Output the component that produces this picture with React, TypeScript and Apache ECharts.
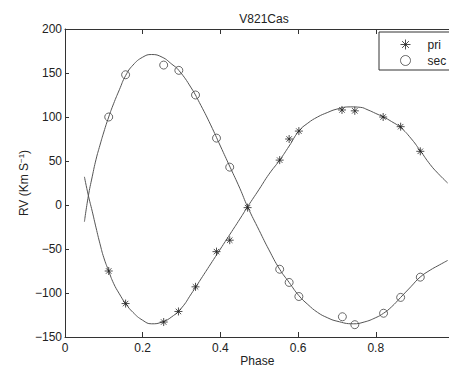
import React, { useEffect, useRef } from "react";
import * as echarts from "echarts";

const priPhase = [0.1125, 0.156, 0.254, 0.292, 0.336, 0.39, 0.424, 0.47, 0.5526, 0.577, 0.602, 0.713, 0.746, 0.819, 0.864, 0.9146];
const priRV = [-75, -112, -133, -121, -93, -53, -40, -3, 51, 75, 84, 108, 107, 100, 89, 61];

const secPhase = [0.1125, 0.156, 0.254, 0.293, 0.336, 0.39, 0.424, 0.5526, 0.577, 0.602, 0.714, 0.746, 0.82, 0.864, 0.9146];
const secRV = [100, 148, 159, 153, 125, 76, 43, -73, -88, -104, -127, -136, -123, -105, -82];

// Fitted orbit curves
const priFitPhase = [0.05, 0.06, 0.07, 0.08, 0.09, 0.1, 0.1125, 0.125, 0.14, 0.156, 0.175, 0.2, 0.223, 0.25, 0.275, 0.3, 0.325, 0.35, 0.375, 0.4, 0.425, 0.45, 0.47, 0.5, 0.525, 0.5526, 0.577, 0.602, 0.625, 0.65, 0.675, 0.7, 0.734, 0.76, 0.78, 0.8, 0.82, 0.84, 0.864, 0.89, 0.914, 0.94, 0.96, 0.985];
const priFitRV = [32, 11, -7, -26, -44, -60, -75, -89, -101, -112, -122, -131, -135, -133, -127, -117, -101, -84, -67, -50, -33, -16, -2, 18, 35, 51, 67, 84, 93, 100, 105, 109, 111.5, 111, 108, 104, 100, 95, 88, 76, 62, 46, 36, 25];

const secFitPhase = [0.05, 0.06, 0.07, 0.08, 0.09, 0.1, 0.1125, 0.125, 0.14, 0.156, 0.175, 0.2, 0.223, 0.25, 0.275, 0.293, 0.325, 0.35, 0.375, 0.4, 0.425, 0.45, 0.47, 0.5, 0.525, 0.5526, 0.577, 0.602, 0.625, 0.65, 0.675, 0.7, 0.742, 0.77, 0.8, 0.82, 0.84, 0.864, 0.89, 0.914, 0.94, 0.96, 0.985];
const secFitRV = [-19, 10, 32, 52, 68, 83, 100, 115, 131, 147, 159, 168, 171, 168, 160, 153, 133, 113, 91, 67, 43, 19, -2, -29, -51, -73, -88, -103, -113, -122, -128, -132, -135, -133, -128, -123, -116, -105, -93, -82, -74, -69, -63];

const yTicks = { min: -150, max: 200, step: 50 };
const xTicks = { min: 0, max: 0.99, step: 0.2 };

const ASTERISK = "path://M5,0L5,10M0,5L10,5M1.6,1.6L8.4,8.4M1.6,8.4L8.4,1.6";
const FONT = "'Liberation Sans', Arial, Helvetica, sans-serif";

const zip = (xs: number[], ys: number[]) => xs.map((x, i) => [x, ys[i]]);

export default function App() {
  const ref = useRef<HTMLDivElement>(null);
  useEffect(() => {
    if (!ref.current) return;
    const chart = echarts.init(ref.current, null, { renderer: "svg" });
    const axisLine = { show: true, onZero: false, lineStyle: { color: "#333", width: 1 } };
    chart.setOption({
      animation: false,
      backgroundColor: "#fff",
      textStyle: { fontFamily: FONT },
      title: {
        text: "V821Cas",
        left: 259,
        top: 8,
        textAlign: "center",
        textStyle: { fontSize: 12, fontWeight: "normal", color: "#222", fontFamily: FONT },
      },
      legend: {
        data: ["pri", "sec"],
        orient: "vertical",
        left: 379,
        top: 32,
        borderColor: "#333",
        borderWidth: 1,
        borderRadius: 0,
        backgroundColor: "#fff",
        padding: [5, 30, 2, 19],
        itemGap: 1,
        itemWidth: 10,
        itemHeight: 10,
        itemStyle: { borderWidth: 1 },
        textStyle: { fontSize: 12, color: "#222", fontFamily: FONT, padding: [0, 0, 0, 12] },
      },
      grid: { left: 65, top: 29, width: 384.6, height: 308, containLabel: false, outerBoundsMode: "none" },
      xAxis: [
        {
          type: "value",
          min: xTicks.min,
          max: xTicks.max,
          interval: xTicks.step,
          position: "bottom",
          axisLine,
          axisTick: { show: true, inside: true, length: 5, lineStyle: { color: "#333" } },
          axisLabel: { color: "#222", fontSize: 12, margin: 5, fontFamily: FONT, showMaxLabel: false },
          splitLine: { show: false },
          name: "Phase",
          nameLocation: "middle",
          nameGap: 18,
          nameMoveOverlap: false,
          nameTextStyle: { fontSize: 12, lineHeight: 12, color: "#222", fontFamily: FONT },
        },
        {
          type: "value",
          min: xTicks.min,
          max: xTicks.max,
          interval: xTicks.step,
          position: "top",
          axisLine,
          axisTick: { show: true, inside: true, length: 5, lineStyle: { color: "#333" } },
          axisLabel: { show: false },
          splitLine: { show: false },
        },
      ],
      yAxis: {
        type: "value",
        min: yTicks.min,
        max: yTicks.max,
        interval: yTicks.step,
        axisLine,
        axisTick: { show: true, inside: true, length: 4, lineStyle: { color: "#333" } },
        axisLabel: {
          color: "#222",
          fontSize: 12,
          margin: 3,
          fontFamily: FONT,
          formatter: (v: number) => String(v).replace("-", "\u2212"),
        },
        splitLine: { show: false },
        name: "RV (Km S{sup|\u22121})",
        nameLocation: "middle",
        nameGap: 34,
        nameMoveOverlap: false,
        nameTextStyle: {
          fontSize: 12,
          color: "#222",
          fontFamily: FONT,
          rich: {
            sup: { fontSize: 8, color: "#222", verticalAlign: "top", lineHeight: 14, fontFamily: FONT },
          },
        },
      },
      series: [
        {
          name: "pri fit",
          type: "line",
          data: zip(priFitPhase, priFitRV),
          showSymbol: false,
          smooth: true,
          silent: true,
          lineStyle: { color: "#555", width: 1 },
          z: 1,
        },
        {
          name: "sec fit",
          type: "line",
          data: zip(secFitPhase, secFitRV),
          showSymbol: false,
          smooth: true,
          silent: true,
          lineStyle: { color: "#555", width: 1 },
          z: 1,
        },
        {
          name: "pri",
          type: "scatter",
          data: zip(priPhase, priRV),
          symbol: ASTERISK,
          symbolSize: 8,
          itemStyle: { color: "none", borderColor: "#222", borderWidth: 1 },
          z: 3,
        },
        {
          name: "sec",
          type: "scatter",
          data: zip(secPhase, secRV),
          symbol: "circle",
          symbolSize: 8,
          itemStyle: { color: "none", borderColor: "#444", borderWidth: 1 },
          z: 3,
        },
      ],
    });
    return () => chart.dispose();
  }, []);
  return (
    <div style={{ position: "fixed", left: 0, top: 0, width: 449, height: 367, overflow: "hidden", background: "#fff" }}>
      <div ref={ref} style={{ width: 456, height: 367 }} />
    </div>
  );
}
